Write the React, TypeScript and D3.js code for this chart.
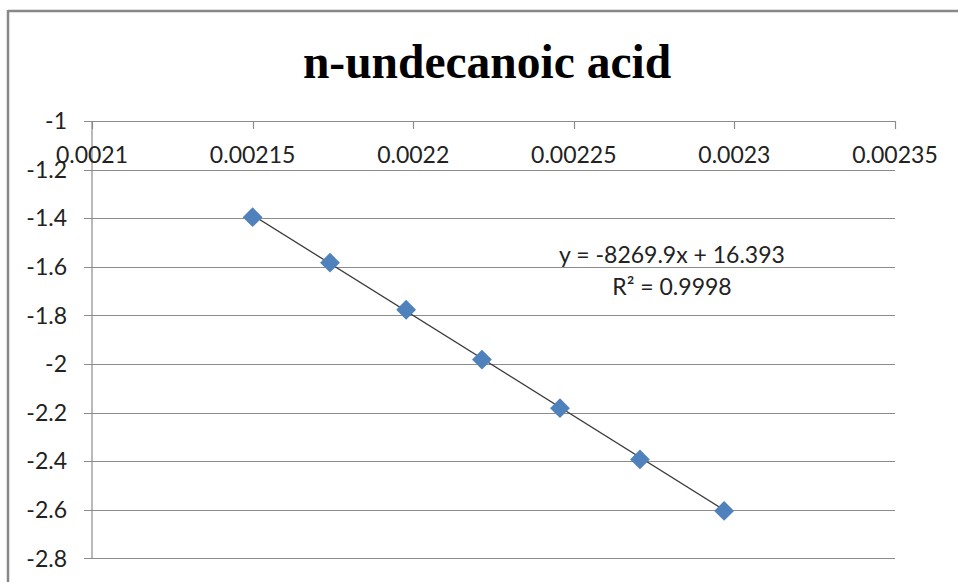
import React from "react";
import * as d3 from "d3";

// Arrhenius-style data: 1/T against ln(value)
const xValues = [0.00215, 0.0021741, 0.0021978, 0.0022214, 0.0022457, 0.0022706, 0.0022968];
const yValues = [-1.396, -1.583, -1.777, -1.982, -2.182, -2.393, -2.605];

const xTicks = [0.0021, 0.00215, 0.0022, 0.00225, 0.0023, 0.00235];
const xTickLabels = ["0.0021", "0.00215", "0.0022", "0.00225", "0.0023", "0.00235"];
const yTicks = [-1, -1.2, -1.4, -1.6, -1.8, -2, -2.2, -2.4, -2.6, -2.8];
const yTickLabels = ["-1", "-1.2", "-1.4", "-1.6", "-1.8", "-2", "-2.2", "-2.4", "-2.6", "-2.8"];

// Linear trendline coefficients
const slope = -8269.9;
const intercept = 16.393;
const rSquared = "0.9998";

const title = "n-undecanoic acid";

const W = 958;
const H = 582;

export default function App() {
  const x = d3.scaleLinear().domain([0.0021, 0.00235]).range([92, 895]);
  const y = d3.scaleLinear().domain([-1, -2.8]).range([121, 558.3]);

  const data = xValues.map((v, i) => ({ x: v, y: yValues[i] }));
  const x0 = d3.min(xValues) as number;
  const x1 = d3.max(xValues) as number;
  const trend = d3
    .line<number>()
    .x((d) => x(d))
    .y((d) => y(slope * d + intercept))([x0, x1]);

  const diamond = d3.symbol().type(d3.symbolDiamond2).size(250)();

  const grid = "#8c8c8c";
  const labelFont = "Lato, 'Open Sans', sans-serif";

  return (
    <svg
      width={W}
      height={H}
      style={{ position: "absolute", left: 0, top: 0, background: "#fff" }}
    >
      {/* chart frame */}
      <line x1={8} y1={11} x2={W} y2={11} stroke="#888" strokeWidth={2.5} />
      <line x1={8} y1={10} x2={8} y2={H} stroke="#888" strokeWidth={2.5} />

      <text
        x={487}
        y={78}
        textAnchor="middle"
        fontFamily="'Liberation Serif', 'Times New Roman', serif"
        fontWeight="bold"
        fontSize={47.5}
        fill="#000"
      >
        {title}
      </text>

      {/* horizontal gridlines with left tick marks */}
      {yTicks.map((t) => (
        <line
          key={"g" + t}
          x1={84}
          x2={x(0.00235)}
          y1={Math.round(y(t)) + 0.5}
          y2={Math.round(y(t)) + 0.5}
          stroke={grid}
          strokeWidth={1.2}
        />
      ))}
      {/* vertical axis */}
      <line
        x1={x(0.0021)}
        x2={x(0.0021)}
        y1={y(-1)}
        y2={y(-2.8)}
        stroke={grid}
        strokeWidth={1.2}
      />
      {/* horizontal axis tick marks */}
      {xTicks.map((t) => (
        <line
          key={"t" + t}
          x1={Math.round(x(t)) + 0.5}
          x2={Math.round(x(t)) + 0.5}
          y1={y(-1)}
          y2={y(-1) + 8}
          stroke={grid}
          strokeWidth={1.2}
        />
      ))}

      {/* y tick labels */}
      {yTicks.map((t, i) => (
        <text
          key={"yl" + t}
          x={67}
          y={y(t)}
          dy="0.36em"
          textAnchor="end"
          fontFamily={labelFont}
          fontSize={23}
          fill="#222"
        >
          {yTickLabels[i]}
        </text>
      ))}
      {/* x tick labels */}
      {xTicks.map((t, i) => (
        <text
          key={"xl" + t}
          x={x(t)}
          y={163}
          textAnchor="middle"
          fontFamily={labelFont}
          fontSize={23}
          fill="#222"
        >
          {xTickLabels[i]}
        </text>
      ))}

      {/* trendline */}
      <path d={trend || ""} fill="none" stroke="#3a3a3a" strokeWidth={1.3} />

      {/* markers */}
      {data.map((d, i) => (
        <path
          key={"p" + i}
          d={diamond || ""}
          transform={`translate(${x(d.x)},${y(d.y)})`}
          fill="#4f81bd"
        />
      ))}

      {/* trendline equation */}
      <text
        x={672}
        y={263}
        textAnchor="middle"
        fontFamily={labelFont}
        fontSize={23}
        fill="#222"
      >
        {`y = ${slope}x + ${intercept}`}
      </text>
      <text
        x={672}
        y={295}
        textAnchor="middle"
        fontFamily={labelFont}
        fontSize={23}
        fill="#222"
      >
        {`R² = ${rSquared}`}
      </text>
    </svg>
  );
}
